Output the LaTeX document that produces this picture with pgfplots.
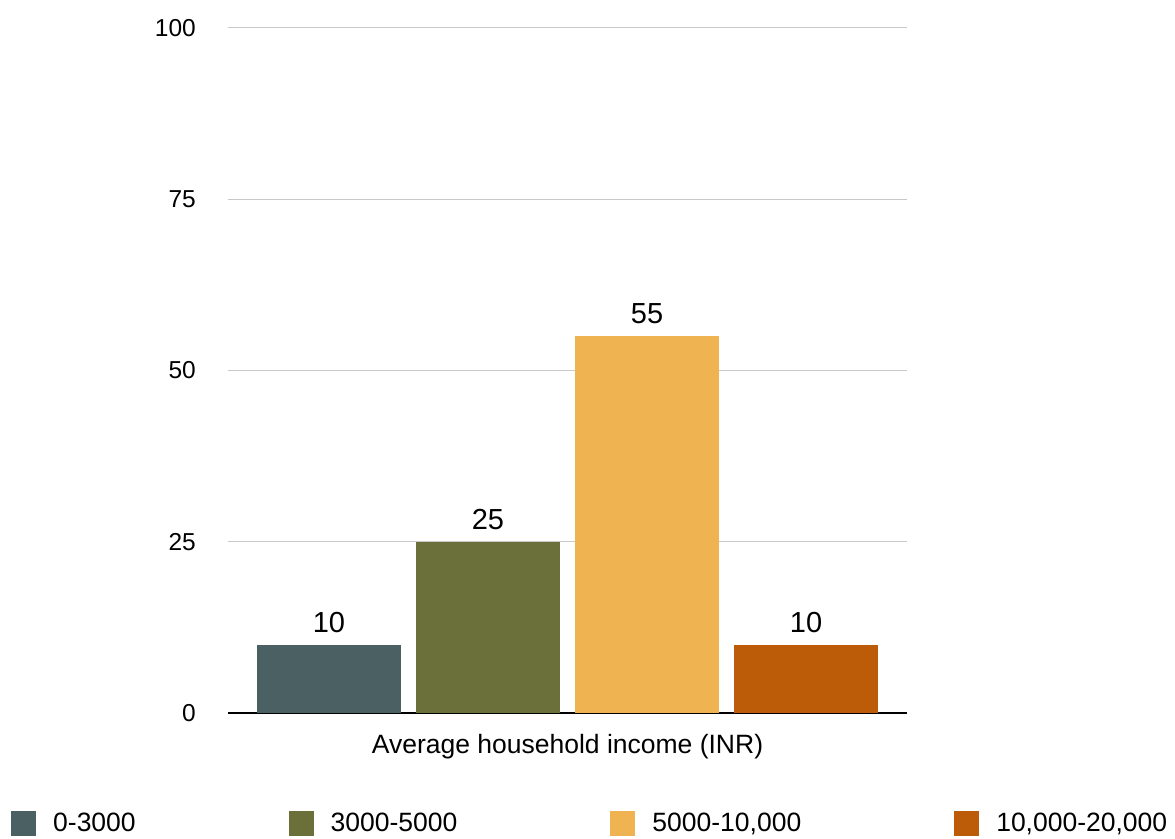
\documentclass[border=0pt]{standalone}
\usepackage{pgfplots}
\pgfplotsset{compat=1.18}
\usepackage{fontspec}
\setmainfont{Liberation Sans}
\definecolor{cA}{HTML}{4A6062}
\definecolor{cB}{HTML}{6B6F3A}
\definecolor{cC}{HTML}{F0B351}
\definecolor{cD}{HTML}{BC5B08}
\definecolor{gridgray}{HTML}{C8C8C8}
\begin{document}
\begin{tikzpicture}
\path[use as bounding box] (0pt,0pt) rectangle (1175pt,838pt);
\begin{axis}[
  at={(228pt,125pt)}, anchor=south west,
  scale only axis, width=679pt, height=685pt,
  ymin=0, ymax=100,
  ytick={25,50,75,100},
  extra y ticks={0},
  extra y tick style={grid style={black, line width=2.5pt}},
  ymajorgrids,
  grid style={gridgray, line width=1pt},
  xmin=-1, xmax=1, xtick=\empty,
  axis line style={draw=none},
  major tick length=0pt,
  /pgf/number format/assume math mode=true,
  yticklabel style={font=\fontsize{24.5}{28}\selectfont, inner sep=0pt, anchor=east, xshift=-32pt},
  ybar=15pt, bar width=144pt,
  xlabel={Average household income (INR)},
  xlabel style={at={(axis description cs:0.5,0)}, anchor=base, yshift=-40pt, font=\fontsize{26.5}{30}\selectfont},
  nodes near coords,
  every node near coord/.append style={font=\fontsize{29}{32}\selectfont, black, inner sep=0pt, anchor=south, yshift=12pt},
  legend columns=4,
  legend image code/.code={\fill[#1] (0pt,-12.5pt) rectangle (25pt,12.5pt);},
  legend style={draw=none, fill=none, inner sep=0pt, at={(rel axis cs:-0.3196,-0.1613)}, anchor=west,
    font=\fontsize{26.5}{30}\selectfont,
    nodes={inner sep=0pt},
    /tikz/every odd column/.append style={column sep=17pt},
    /tikz/every even column/.append style={column sep=153pt}},
  legend cell align=left,
]
\addplot[fill=cA, draw=none] coordinates {(0,10)};
\addplot[fill=cB, draw=none] coordinates {(0,25)};
\addplot[fill=cC, draw=none] coordinates {(0,55)};
\addplot[fill=cD, draw=none] coordinates {(0,10)};
\legend{0-3000,3000-5000,{5000-10,000},{10,000-20,000}}
\end{axis}
\end{tikzpicture}
\end{document}
